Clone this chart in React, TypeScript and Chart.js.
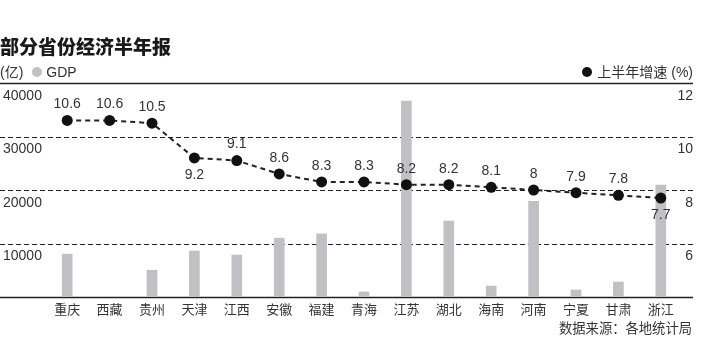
import React, { useEffect, useRef } from 'react';
import { Chart, registerables } from 'chart.js';

Chart.register(...registerables);

const categories = ['重庆', '西藏', '贵州', '天津', '江西', '安徽', '福建', '青海', '江苏', '湖北', '海南', '河南', '宁夏', '甘肃', '浙江'];
const gdp = [8000, 0, 5000, 8600, 7850, 11000, 11800, 950, 36600, 14200, 2050, 17900, 1300, 2800, 20900];
const growth = [10.6, 10.6, 10.5, 9.2, 9.1, 8.6, 8.3, 8.3, 8.2, 8.2, 8.1, 8, 7.9, 7.8, 7.7];
const gdpTicks = [0, 10000, 20000, 30000, 40000];
const growthTicks = [4, 6, 8, 10, 12];
const labelBelow = [3, 14];

const FONT = "'Liberation Sans', Arial, 'Noto Sans CJK SC', sans-serif";

const gridPlugin = {
  id: 'customGrid',
  beforeDatasetsDraw(chart: any) {
    const ys = chart.scales.y;
    const right = chart.scales.y1.right;
    const ctx = chart.ctx;
    ctx.save();
    gdpTicks.forEach((v) => {
      const solid = v === gdpTicks[0] || v === gdpTicks[gdpTicks.length - 1];
      const py = Math.round(ys.getPixelForValue(v)) + 0.5;
      ctx.beginPath();
      ctx.setLineDash(solid ? [] : [5, 3]);
      ctx.lineWidth = solid ? 1.5 : 1;
      ctx.strokeStyle = '#222';
      ctx.moveTo(0, py);
      ctx.lineTo(right, py);
      ctx.stroke();
    });
    ctx.restore();
  },
};

const rightTicksPlugin = {
  id: 'rightTicks',
  afterDraw(chart: any) {
    const s = chart.scales.y1;
    const ctx = chart.ctx;
    ctx.save();
    ctx.font = `14px ${FONT}`;
    ctx.fillStyle = '#333';
    ctx.textAlign = 'right';
    ctx.textBaseline = 'middle';
    growthTicks.forEach((v, i) => {
      if (i === 0) return;
      ctx.fillText(String(v), s.right, s.getPixelForValue(v) + 13);
    });
    ctx.restore();
  },
};

const labelPlugin = {
  id: 'pointLabels',
  afterDatasetsDraw(chart: any) {
    const meta = chart.getDatasetMeta(0);
    const ctx = chart.ctx;
    ctx.save();
    ctx.font = `14px ${FONT}`;
    ctx.fillStyle = '#333';
    ctx.textAlign = 'center';
    ctx.textBaseline = 'middle';
    meta.data.forEach((pt: any, i: number) => {
      const below = labelBelow.includes(i);
      ctx.fillText(String(growth[i]), pt.x, pt.y + (below ? 17 : -16));
    });
    ctx.restore();
  },
};

export default function App() {
  const ref = useRef<HTMLCanvasElement | null>(null);

  useEffect(() => {
    if (!ref.current) return;
    const chart = new Chart(ref.current, {
      type: 'bar',
      data: {
        labels: categories,
        datasets: [
          {
            type: 'line',
            label: '上半年增速 (%)',
            data: growth,
            yAxisID: 'y1',
            borderColor: '#222',
            borderWidth: 2,
            borderDash: [5, 4],
            pointRadius: 5.5,
            pointBackgroundColor: '#111',
            pointBorderColor: '#111',
            pointBorderWidth: 0,
            tension: 0,
            order: 0,
          } as any,
          {
            type: 'bar',
            label: 'GDP',
            data: gdp,
            yAxisID: 'y',
            backgroundColor: '#c1c1c5',
            barThickness: 10,
            order: 1,
          } as any,
        ],
      },
      options: {
        responsive: false,
        animation: false,
        layout: { padding: { top: 83, left: 3, right: 20, bottom: 0 } },
        plugins: {
          legend: { display: false },
          tooltip: { enabled: false },
          title: { display: false },
        },
        scales: {
          x: {
            type: 'category',
            offset: true,
            grid: { display: false, drawTicks: false, tickLength: 0 },
            border: { display: false },
            ticks: { font: { size: 13, family: FONT }, color: '#333', padding: 6, maxRotation: 0, autoSkip: false },
            afterFit: (s: any) => { s.height = 63; },
          },
          y: {
            position: 'left',
            min: gdpTicks[0],
            max: gdpTicks[gdpTicks.length - 1],
            grid: { display: false },
            border: { display: false },
            afterBuildTicks: (s: any) => { s.ticks = gdpTicks.map((v) => ({ value: v })); },
            ticks: {
              font: { size: 14, family: FONT },
              color: '#333',
              crossAlign: 'far',
              labelOffset: 13,
              callback: (v: any) => (v === gdpTicks[0] ? '' : String(v)),
            },
            afterFit: (s: any) => { s.width = 43; },
          },
          y1: {
            position: 'right',
            min: growthTicks[0],
            max: growthTicks[growthTicks.length - 1],
            grid: { display: false },
            border: { display: false },
            afterBuildTicks: (s: any) => { s.ticks = growthTicks.map((v) => ({ value: v })); },
            ticks: { display: false },
            afterFit: (s: any) => { s.width = 11; },
          },
        },
      } as any,
      plugins: [gridPlugin, labelPlugin, rightTicksPlugin],
    });
    return () => chart.destroy();
  }, []);

  const text: React.CSSProperties = { position: 'absolute', fontFamily: FONT, color: '#333', whiteSpace: 'nowrap' };

  return (
    <div style={{ position: 'fixed', left: 0, top: 0, width: 713, height: 360, background: '#fff', overflow: 'hidden' }}>
      <canvas ref={ref} width={713} height={360} style={{ position: 'absolute', left: 0, top: 0, width: 713, height: 360 }} />
      <div style={{ ...text, left: 0, top: 36, fontSize: 19, lineHeight: '19px', fontWeight: 900, color: '#1a1a1a', fontFamily: "'Noto Sans CJK SC', sans-serif" }}>
        部分省份经济半年报
      </div>
      <div style={{ ...text, left: 0, top: 62, fontSize: 14, lineHeight: '20px', display: 'flex', alignItems: 'center' }}>
        <span>(亿)</span>
        <span style={{ display: 'inline-block', width: 10, height: 10, borderRadius: 5, background: '#c1c1c5', marginLeft: 9, marginRight: 4 }} />
        <span>GDP</span>
      </div>
      <div style={{ ...text, right: 20, top: 62, fontSize: 14, lineHeight: '20px', display: 'flex', alignItems: 'center' }}>
        <span style={{ display: 'inline-block', width: 10, height: 10, borderRadius: 5, background: '#111', marginRight: 5 }} />
        <span>上半年增速 (%)</span>
      </div>
      <div style={{ ...text, right: 21, top: 319, fontSize: 13.3, lineHeight: '20px' }}>
        数据来源：各地统计局
      </div>
    </div>
  );
}
